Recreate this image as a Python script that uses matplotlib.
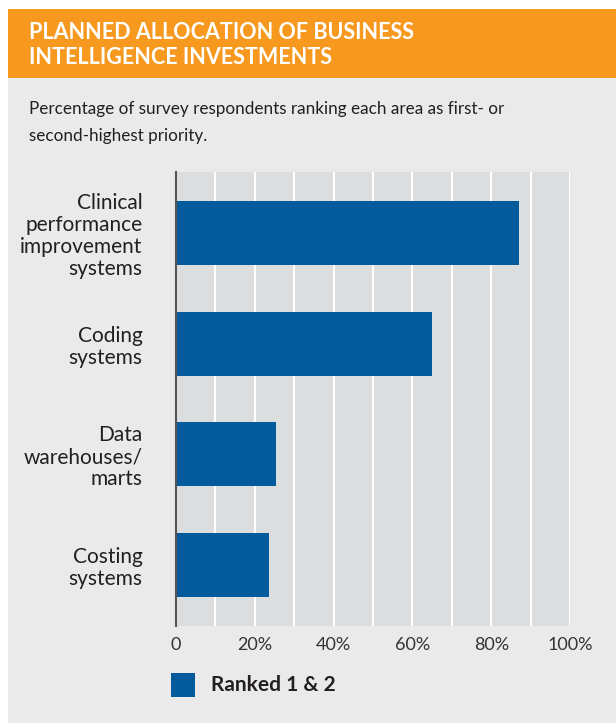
import matplotlib.pyplot as plt
from matplotlib.patches import Rectangle

# Data
categories = [
    "Clinical\nperformance\nimprovement\nsystems",
    "Coding\nsystems",
    "Data\nwarehouses/\nmarts",
    "Costing\nsystems",
]
values = [87, 65, 25.5, 23.5]
xticks = [0, 20, 40, 60, 80, 100]
xtick_labels = ["0", "20%", "40%", "60%", "80%", "100%"]

blue = "#035A9C"
orange = "#F7991F"
panel = "#EAEAEA"
plot_bg = "#DCDDDF"
txt = "#231F20"

plt.rcParams["font.family"] = ["Lato", "DejaVu Sans"]

W, H = 616, 723
fig = plt.figure(figsize=(W / 100, H / 100), dpi=100)
fig.patch.set_facecolor("white")

# background panel + orange header band
fig.patches.append(Rectangle((8 / W, 0), 1, 1 - 78 / H, transform=fig.transFigure,
                             facecolor=panel, edgecolor="none", zorder=-10))
fig.patches.append(Rectangle((8 / W, 1 - 78 / H), 1, 69 / H, transform=fig.transFigure,
                             facecolor=orange, edgecolor="none", zorder=-10))

fig.text(29 / W, 1 - 39 / H, "PLANNED ALLOCATION OF BUSINESS", color="white",
         fontsize=15.5, fontweight="bold", va="baseline", ha="left")
fig.text(29 / W, 1 - 64 / H, "INTELLIGENCE INVESTMENTS", color="white",
         fontsize=15.5, fontweight="bold", va="baseline", ha="left")

fig.text(29 / W, 1 - 114 / H, "Percentage of survey respondents ranking each area as first- or",
         color=txt, fontsize=12.3, va="baseline", ha="left")
fig.text(29 / W, 1 - 141 / H, "second-highest priority.",
         color=txt, fontsize=12.3, va="baseline", ha="left")

# chart area
ax = fig.add_axes([176 / W, 1 - 626 / H, (570 - 176) / W, (626 - 172) / H])
ax.set_zorder(2)
ax.set_facecolor(plot_bg)
ypos = list(range(len(categories)))
ax.barh(ypos, values, height=0.58, color=blue, zorder=3)
ax.set_xlim(0, 100)
ax.set_ylim(len(categories) - 0.45, -0.55)

ax.set_xticks(xticks)
ax.set_xticks(range(10, 100, 20), minor=True)
ax.grid(axis="x", which="both", color="white", linewidth=1.5, zorder=1)
ax.set_axisbelow(True)
ax.set_xticklabels(xtick_labels, fontsize=13, color="#333333")
ax.tick_params(axis="x", which="both", length=0, pad=8)

ax.set_yticks(ypos)
ax.set_yticklabels(categories, fontsize=15, color=txt, linespacing=1.12, ha="right")
ax.tick_params(axis="y", length=0, pad=24)

for s in ["top", "right", "bottom"]:
    ax.spines[s].set_visible(False)
ax.spines["left"].set_color("#555555")
ax.spines["left"].set_linewidth(1.5)
ax.spines["left"].set_zorder(4)

# legend
fig.patches.append(Rectangle((171 / W, 1 - 697 / H), 24 / W, 24 / H, transform=fig.transFigure,
                             facecolor=blue, edgecolor="none"))
fig.text(211 / W, 1 - 685 / H, "Ranked 1 & 2", color=txt, fontsize=15,
         fontweight="bold", va="center", ha="left")

fig.savefig("out.png", dpi=100, facecolor=fig.get_facecolor())
